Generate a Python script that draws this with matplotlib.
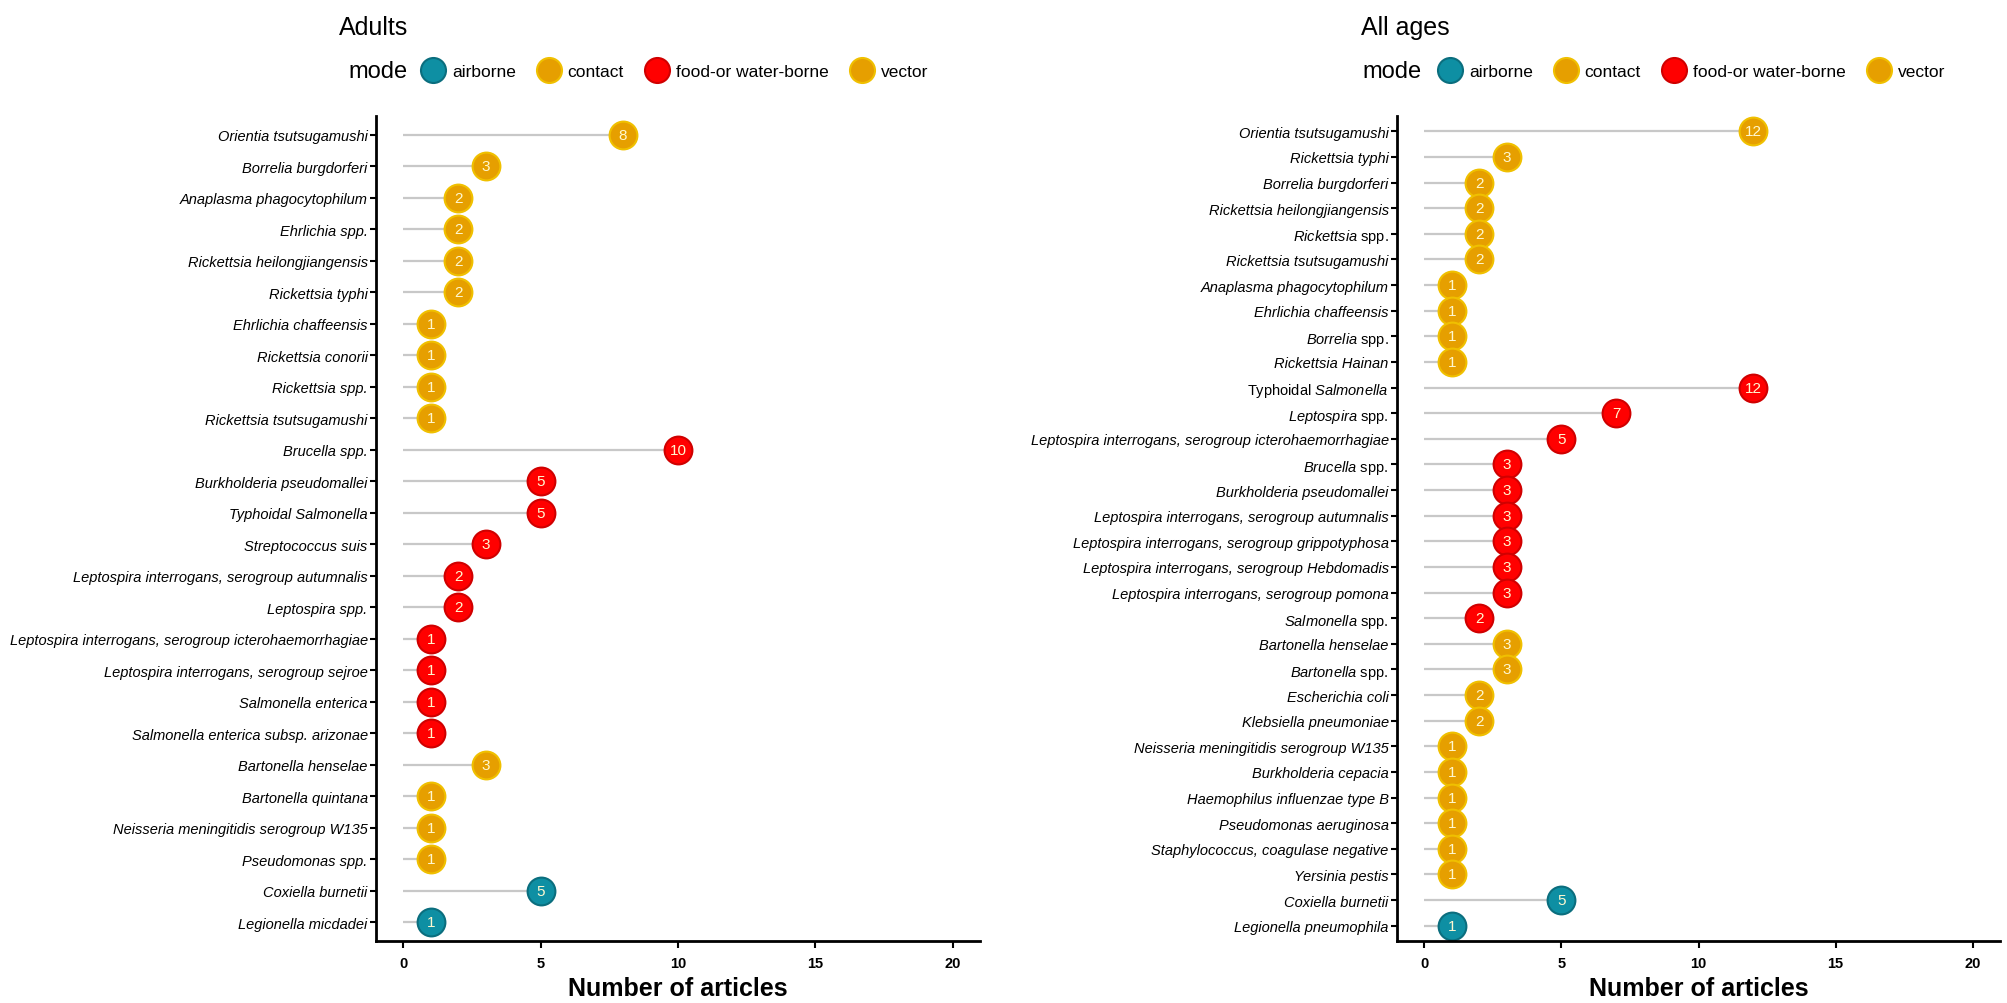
import matplotlib
matplotlib.use("Agg")
import matplotlib.pyplot as plt
from matplotlib.lines import Line2D

plt.rcParams['font.family'] = ['Liberation Sans', 'DejaVu Sans']
plt.rcParams['mathtext.fontset'] = 'custom'
plt.rcParams['mathtext.it'] = 'Liberation Sans:italic'
plt.rcParams['mathtext.rm'] = 'Liberation Sans'

# Adults panel, top to bottom
adults_names = [
    'Orientia tsutsugamushi', 'Borrelia burgdorferi', 'Anaplasma phagocytophilum',
    'Ehrlichia spp.', 'Rickettsia heilongjiangensis', 'Rickettsia typhi',
    'Ehrlichia chaffeensis', 'Rickettsia conorii', 'Rickettsia spp.',
    'Rickettsia tsutsugamushi', 'Brucella spp.', 'Burkholderia pseudomallei',
    'Typhoidal Salmonella', 'Streptococcus suis',
    'Leptospira interrogans, serogroup autumnalis', 'Leptospira spp.',
    'Leptospira interrogans, serogroup icterohaemorrhagiae',
    'Leptospira interrogans, serogroup sejroe', 'Salmonella enterica',
    'Salmonella enterica subsp. arizonae', 'Bartonella henselae',
    'Bartonella quintana', 'Neisseria meningitidis serogroup W135',
    'Pseudomonas spp.', 'Coxiella burnetii', 'Legionella micdadei',
]
adults_counts = [8, 3, 2, 2, 2, 2, 1, 1, 1, 1, 10, 5, 5, 3, 2, 2, 1, 1, 1, 1,
                 3, 1, 1, 1, 5, 1]
adults_modes = ['vector'] * 10 + ['food-or water-borne'] * 10 + ['contact'] * 4 + ['airborne'] * 2

# All ages panel, top to bottom
all_names = [
    'Orientia tsutsugamushi', 'Rickettsia typhi', 'Borrelia burgdorferi',
    'Rickettsia heilongjiangensis', 'Rickettsia spp.', 'Rickettsia tsutsugamushi',
    'Anaplasma phagocytophilum', 'Ehrlichia chaffeensis', 'Borrelia spp.',
    'Rickettsia Hainan', 'Typhoidal Salmonella', 'Leptospira spp.',
    'Leptospira interrogans, serogroup icterohaemorrhagiae', 'Brucella spp.',
    'Burkholderia pseudomallei', 'Leptospira interrogans, serogroup autumnalis',
    'Leptospira interrogans, serogroup grippotyphosa',
    'Leptospira interrogans, serogroup Hebdomadis',
    'Leptospira interrogans, serogroup pomona', 'Salmonella spp.',
    'Bartonella henselae', 'Bartonella spp.', 'Escherichia coli',
    'Klebsiella pneumoniae', 'Neisseria meningitidis serogroup W135',
    'Burkholderia cepacia', 'Haemophilus influenzae type B',
    'Pseudomonas aeruginosa', 'Staphylococcus, coagulase negative',
    'Yersinia pestis', 'Coxiella burnetii', 'Legionella pneumophila',
]
all_counts = [12, 3, 2, 2, 2, 2, 1, 1, 1, 1, 12, 7, 5, 3, 3, 3, 3, 3, 3, 2,
              3, 3, 2, 2, 1, 1, 1, 1, 1, 1, 5, 1]
all_modes = ['vector'] * 10 + ['food-or water-borne'] * 10 + ['contact'] * 10 + ['airborne'] * 2

mode_order = ['airborne', 'contact', 'food-or water-borne', 'vector']
fill = {'airborne': '#0E8FA3', 'contact': '#E69F00',
        'food-or water-borne': '#FF0000', 'vector': '#E69F00'}
edge = {'airborne': '#0B6E7E', 'contact': '#F0C000',
        'food-or water-borne': '#D00000', 'vector': '#F0C000'}

fig = plt.figure(figsize=(20.08, 10.04), dpi=100)
W, H = 2008, 1004


def lollipop(ax, names, counts, modes, mixed_style):
    n = len(names)
    ypos = list(range(n - 1, -1, -1))
    for y, c, m in zip(ypos, counts, modes):
        ax.plot([0, c], [y, y], color='#C8C8C8', lw=1.6, zorder=1, solid_capstyle='butt')
        ax.plot(c, y, 'o', ms=20, mfc=fill[m], mec=edge[m], mew=1.5, zorder=2)
        ax.text(c, y, str(c), ha='center', va='center', fontsize=11,
                color='#FFF8D0', zorder=3)
    ax.set_yticks(ypos)
    labels = []
    for nm in names:
        if mixed_style and nm.endswith(' spp.'):
            labels.append(r'$\mathit{%s}$ spp.' % nm[:-5])
        elif mixed_style and nm.startswith('Typhoidal'):
            labels.append(r'Typhoidal $\mathit{Salmonella}$')
        else:
            labels.append(nm)
    ax.set_yticklabels(labels, fontsize=10.5)
    for lab in ax.get_yticklabels():
        if '$' not in lab.get_text():
            lab.set_fontstyle('italic')
    ax.set_ylim(-0.6, n - 0.4)
    ax.set_xlim(-1, 21)
    ax.set_xticks([0, 5, 10, 15, 20])
    ax.tick_params(axis='x', labelsize=10.5, length=5, width=1.5, pad=6)
    ax.tick_params(axis='y', length=4, width=1.5, pad=2)
    for lab in ax.get_xticklabels():
        lab.set_fontweight('bold')
    ax.spines['top'].set_visible(False)
    ax.spines['right'].set_visible(False)
    ax.spines['left'].set_linewidth(2)
    ax.spines['bottom'].set_linewidth(2)
    ax.set_xlabel('Number of articles', fontsize=18, fontweight='bold', labelpad=4)


bottom = 1 - 942 / H
top = 1 - 117 / H
ax1 = fig.add_axes([376 / W, bottom, (980 - 376) / W, top - bottom])
ax2 = fig.add_axes([1397 / W, bottom, (2000 - 1397) / W, top - bottom])

lollipop(ax1, adults_names, adults_counts, adults_modes, False)
lollipop(ax2, all_names, all_counts, all_modes, True)

handles = [Line2D([], [], linestyle='none', marker='o', ms=18,
                  mfc=fill[m], mec=edge[m], mew=1.5) for m in mode_order]

for x_title, title, x_mode, x_leg in [(339, 'Adults', 348, 424),
                                      (1361, 'All ages', 1362, 1441)]:
    fig.text(x_title / W, 1 - 28 / H, title, fontsize=18, ha='left', va='center')
    fig.text(x_mode / W, 1 - 72 / H, 'mode', fontsize=17, ha='left', va='center')
    fig.legend(handles, mode_order, loc='center left',
               bbox_to_anchor=(x_leg / W, 1 - 72 / H),
               bbox_transform=fig.transFigure, ncol=4, frameon=False,
               fontsize=12.5, handlelength=1.0, handletextpad=0.6,
               columnspacing=1.4, borderpad=0, borderaxespad=0)

fig.savefig('out.png', dpi=100, facecolor='white')
